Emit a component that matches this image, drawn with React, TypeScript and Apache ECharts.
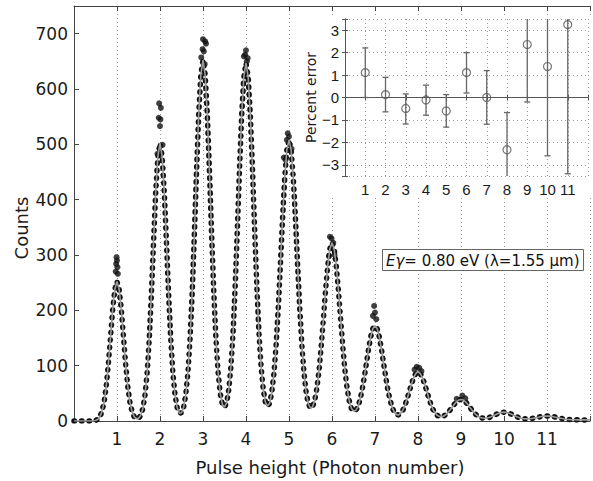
import React, { useEffect, useRef } from 'react';
import * as echarts from 'echarts';

// ---------- data ----------
const binWidth = 0.05; // pulse-height bin width (photon number units)
// fitted counts at pulse height 0.00, 0.05, ... 12.00
const fitCounts = [
  0, 0, 0, 0, 0, 0, 0, 0, 0, 0.3, 1, 2.8, 7.2, 17, 34, 63, 104, 153, 202, 238,
  252, 238, 202, 153, 104, 63, 34, 17, 7.6, 4.2, 4.8, 9.9, 22, 46, 86, 148, 230, 324, 413, 478,
  502, 478, 413, 324, 230, 148, 86, 47, 24, 14.3, 14.8, 25, 48, 88, 150, 235, 339, 452, 554, 626,
  652, 626, 554, 452, 339, 235, 150, 89, 50, 30, 25, 33, 57, 99, 161, 247, 349, 457, 554, 622,
  647, 622, 554, 457, 349, 247, 161, 99, 58, 34, 27, 32, 52, 86, 137, 204, 283, 366, 439, 490,
  508, 490, 439, 366, 283, 204, 137, 86, 51, 31, 23, 26, 38, 60, 92, 136, 185, 236, 280, 311,
  322, 311, 280, 236, 185, 136, 92, 60, 37, 23, 18, 19, 25, 38, 56, 79, 104, 130, 152, 167,
  172, 167, 152, 130, 104, 79, 56, 38, 24, 16, 11.5, 11, 14, 20, 29, 41, 54, 67, 78.5, 86,
  89, 86, 79, 68, 55, 42, 30, 20.7, 14.2, 10.1, 8.1, 7.7, 9, 11.7, 15.5, 20.2, 25.5, 30.7, 35, 38,
  39, 38, 35, 30.7, 25.5, 20.2, 15.4, 11.4, 8.3, 6.3, 5.3, 4.9, 5.3, 6.2, 7.7, 9.3, 11.3, 13.1, 14.6, 15.6,
  16, 15.6, 14.6, 13.1, 11.3, 9.4, 7.6, 6.1, 5.0, 4.2, 3.9, 3.8, 4.0, 4.6, 5.2, 6.1, 6.9, 7.8, 8.4, 8.9,
  9, 8.9, 8.4, 7.8, 6.9, 6.1, 5.2, 4.4, 3.7, 3.2, 2.8, 2.5, 2.3, 2.2, 2.1, 2.1, 2.0, 2.0, 2.0, 2.0,
  2.0,
];
// measured points that sit off the fitted curve near the peak tops
const peakPoints: [number, number][] = [
  [0.99, 296], [1.0, 290], [0.98, 284], [1.01, 278], [0.97, 270], [1.02, 266],
  [1.98, 574], [2.02, 566], [1.97, 548], [2.01, 545], [2.0, 533], [2.06, 499], [1.94, 483], [1.99, 480],
  [3.0, 690], [3.05, 686], [3.07, 682], [2.99, 672], [3.02, 668], [2.96, 657], [3.04, 645],
  [4.0, 670], [3.98, 662], [4.04, 656], [3.95, 659], [4.02, 650],
  [4.97, 520], [5.0, 514], [4.95, 508], [4.88, 476], [4.92, 472], [5.06, 492],
  [5.95, 333], [5.99, 330], [6.03, 322], [5.93, 298], [6.06, 300],
  [6.98, 208], [7.0, 196], [6.95, 190], [7.03, 184],
  [7.97, 98], [7.92, 93], [8.03, 96], [8.08, 90],
  [9.03, 46], [8.9, 40], [9.1, 41],
];
// inset: percent error per photon number
const photonNumbers = [1, 2, 3, 4, 5, 6, 7, 8, 9, 10, 11];
const percentError = [1.11, 0.13, -0.49, -0.11, -0.6, 1.11, 0.0, -2.33, 2.36, 1.38, 3.25];
const errorLow = [0.0, -0.64, -1.18, -0.79, -1.32, 0.2, -1.19, -3.99, -0.2, -2.6, -3.4];
const errorHigh = [2.21, 0.9, 0.16, 0.55, 0.13, 2.0, 1.2, -0.67, 4.92, 5.36, 9.9];

const FONT = 'DejaVu Sans';
const INSET_FONT = 'Liberation Sans';
const AXIS = '#444';
const GRIDC = '#9a9a9a';

export default function App() {
  const ref = useRef<HTMLDivElement>(null);
  useEffect(() => {
    document.body.style.margin = '0';
    const chart = echarts.init(ref.current!, undefined, { renderer: 'svg' });
    const fitPoints = fitCounts.map((c, i) => [+(i * binWidth).toFixed(2), c]);
    const errData = photonNumbers.map((n, i) => [n, errorLow[i], errorHigh[i]]);
    const ptData = photonNumbers.map((n, i) => [n, percentError[i]]);
    const mainXLabel = (v: number) => (v >= 1 && v <= 11 ? String(v) : '');
    const insetY = (v: number) =>
      Number.isInteger(v) ? (v < 0 ? '\u2212' + Math.abs(v) : String(v)) : '';
    const dotted = { show: true, lineStyle: { color: GRIDC, type: [1, 3] as any, width: 1 } };
    const option: any = {
      animation: false,
      textStyle: { fontFamily: FONT },
      title: {
        text: '{e|E}{g|\u03b3}{n|= 0.80 eV (\u03bb=1.55 \u03bcm)}',
        left: 382,
        top: 247,
        padding: [4, 4, 3, 4],
        borderColor: '#666',
        borderWidth: 1,
        backgroundColor: '#fff',
        textStyle: {
          fontWeight: 'normal',
          fontSize: 15,
          color: '#111',
          fontFamily: FONT,
          rich: {
            e: { fontStyle: 'italic', fontSize: 15, fontFamily: FONT, color: '#111', lineHeight: 19 },
            g: { fontStyle: 'italic', fontSize: 15, fontFamily: FONT, color: '#111', lineHeight: 19 },
            n: { fontSize: 15, fontFamily: FONT, color: '#111', lineHeight: 19 },
          },
        },
      },
      grid: [
        { left: 74, top: 6, width: 525, height: 415 },
        { left: 345, top: 19, width: 243, height: 157, z: 20 },
      ],
      xAxis: [
        {
          gridIndex: 0, type: 'value', min: 0, max: 12, interval: 1,
          axisLine: { show: true, lineStyle: { color: AXIS, width: 1 } },
          axisTick: { show: true, inside: true, length: 5, lineStyle: { color: AXIS } },
          axisLabel: { fontSize: 17, color: '#1a1a1a', margin: 9, formatter: mainXLabel, fontFamily: FONT },
          splitLine: dotted,
        },
        {
          gridIndex: 0, type: 'value', position: 'top', min: 0, max: 12, interval: 1,
          axisLine: { show: true, lineStyle: { color: AXIS, width: 1 } },
          axisTick: { show: true, inside: true, length: 5, lineStyle: { color: AXIS } },
          axisLabel: { show: false },
          splitLine: { show: false },
        },
        {
          gridIndex: 1, type: 'value', min: 0, max: 12, interval: 1, z: 20,
          axisLine: { show: true, lineStyle: { color: '#555', width: 1 } },
          axisTick: { show: true, inside: true, length: 3, lineStyle: { color: '#555' } },
          axisLabel: { fontSize: 15, color: '#1a1a1a', margin: 6, formatter: mainXLabel, fontFamily: INSET_FONT },
          splitLine: dotted,
        },
        {
          gridIndex: 1, type: 'value', position: 'top', min: 0, max: 12, interval: 1, z: 20,
          axisLine: { show: true, lineStyle: { color: '#555', width: 1 } },
          axisTick: { show: true, inside: true, length: 3, lineStyle: { color: '#555' } },
          axisLabel: { show: false },
          splitLine: { show: false },
        },
      ],
      yAxis: [
        {
          gridIndex: 0, type: 'value', min: 0, max: 750, interval: 100,
          axisLine: { show: true, lineStyle: { color: AXIS, width: 1 } },
          axisTick: { show: true, inside: true, length: 5, lineStyle: { color: AXIS } },
          axisLabel: {
            fontSize: 17, color: '#1a1a1a', margin: 6, fontFamily: FONT,
            formatter: (v: number) => (v % 100 === 0 ? String(v) : ''),
          },
          splitLine: { show: false },
        },
        {
          gridIndex: 1, type: 'value', min: -3.5, max: 3.5, splitNumber: 7, minInterval: 1, maxInterval: 1, z: 20,
          name: 'Percent error', nameLocation: 'middle', nameRotate: 90, nameGap: 27,
          nameTextStyle: { fontSize: 14, color: '#1a1a1a', fontFamily: FONT },
          axisLine: { show: true, lineStyle: { color: '#555', width: 1 } },
          axisTick: { show: true, inside: true, length: 3, lineStyle: { color: '#555' } },
          axisLabel: { fontSize: 15, color: '#1a1a1a', margin: 6, formatter: insetY, fontFamily: INSET_FONT },
          splitLine: dotted,
        },
        {
          gridIndex: 1, type: 'value', position: 'right', min: -3.5, max: 3.5, splitNumber: 7, minInterval: 1, maxInterval: 1, z: 20,
          axisLine: { show: true, lineStyle: { color: '#555', width: 1 } },
          axisTick: { show: true, inside: true, length: 3, lineStyle: { color: '#555' } },
          axisLabel: { show: false },
          splitLine: { show: false },
        },
      ],
      graphic: {
        z: 10,
        elements: [
          {
            type: 'rect', z: 10, silent: true,
            shape: { x: 303, y: 17, width: 290, height: 181 },
            style: { fill: '#fff' },
          },
          {
            type: 'text', z: 10, x: 21, y: 228, rotation: Math.PI / 2,
            style: { text: 'Counts', fontSize: 18, fontFamily: FONT, fill: '#1a1a1a', align: 'center', verticalAlign: 'middle' },
          },
          {
            type: 'text', z: 10, x: 330, y: 467,
            style: { text: 'Pulse height (Photon number)', fontSize: 18, fontFamily: FONT, fill: '#1a1a1a', align: 'center', verticalAlign: 'middle' },
          },
        ],
      },
      series: [
        {
          type: 'line', xAxisIndex: 0, yAxisIndex: 0, data: fitPoints, symbol: 'none', silent: true, z: 2,
          lineStyle: { color: '#111', width: 5.5, type: [0.5, 7], cap: 'round', join: 'round' },
        },
        {
          type: 'scatter', xAxisIndex: 0, yAxisIndex: 0, data: peakPoints, symbolSize: 6, silent: true, z: 3,
          itemStyle: { color: '#111' },
        },
        {
          type: 'line', xAxisIndex: 0, yAxisIndex: 0, data: fitPoints, symbol: 'none', silent: true, z: 4,
          lineStyle: { color: '#9a9a9a', width: 1.6 },
        },
        {
          type: 'custom', xAxisIndex: 2, yAxisIndex: 1, data: errData, clip: true, z: 30, silent: true,
          encode: { x: 0, y: [1, 2] },
          renderItem: (params: any, api: any) => {
            const x = api.value(0);
            const p1 = api.coord([x, api.value(2)]);
            const p2 = api.coord([x, api.value(1)]);
            const w = 3;
            const style = { stroke: '#666', lineWidth: 1.3 };
            return {
              type: 'group',
              children: [
                { type: 'line', shape: { x1: p1[0], y1: p1[1], x2: p2[0], y2: p2[1] }, style },
                { type: 'line', shape: { x1: p1[0] - w, y1: p1[1], x2: p1[0] + w, y2: p1[1] }, style },
                { type: 'line', shape: { x1: p2[0] - w, y1: p2[1], x2: p2[0] + w, y2: p2[1] }, style },
              ],
            };
          },
        },
        {
          type: 'scatter', xAxisIndex: 2, yAxisIndex: 1, data: ptData, symbol: 'circle', symbolSize: 8, z: 31, silent: true,
          itemStyle: { color: 'rgba(0,0,0,0)', borderColor: '#555', borderWidth: 1.2 },
        },
      ],
    };
    chart.setOption(option);
    return () => chart.dispose();
  }, []);
  return <div ref={ref} style={{ width: 593, height: 481 }} />;
}
